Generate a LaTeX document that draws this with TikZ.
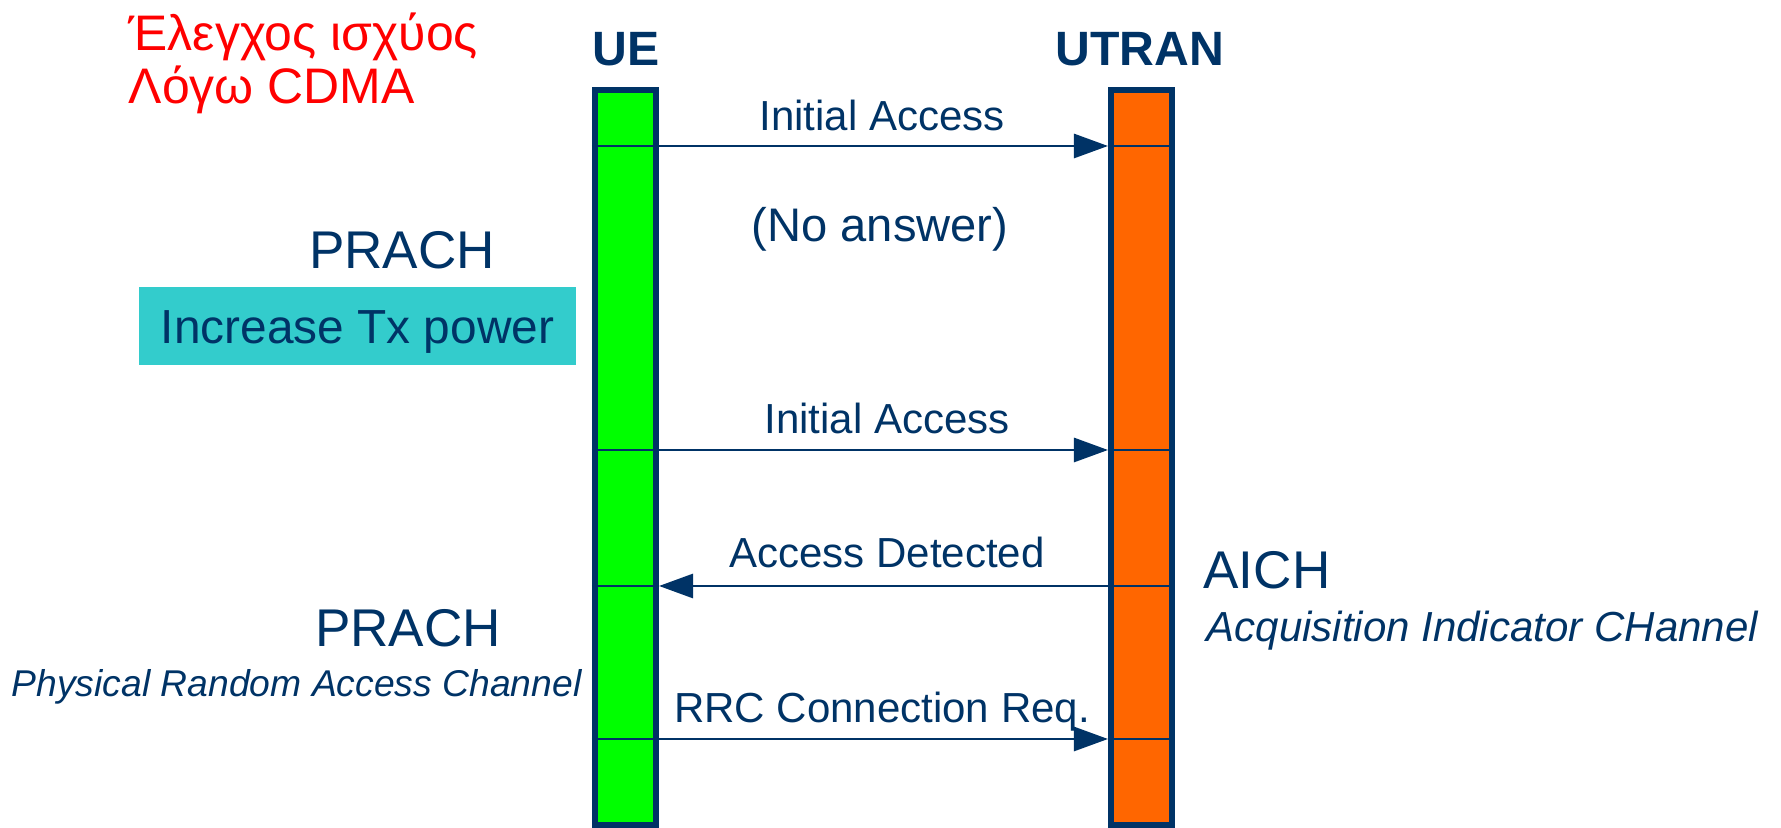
\documentclass[tikz,border=0pt]{standalone}
\usepackage{fontspec}
\setmainfont{Liberation Sans}
\usetikzlibrary{arrows.meta}
\definecolor{navy}{RGB}{0,51,102}
\definecolor{uegreen}{RGB}{0,255,0}
\definecolor{utranorange}{RGB}{255,102,0}
\definecolor{boxcyan}{RGB}{51,204,204}
\definecolor{notered}{RGB}{255,0,0}
\tikzset{
  px/.style={x=0.01cm, y=-0.01cm},
  entity/.style={draw=navy, line width=1.7pt, inner sep=0pt,
    minimum width=0.61cm, minimum height=7.35cm},
  head/.style={font=\fontsize{13.7pt}{16pt}\selectfont\bfseries, text=navy, anchor=base, inner sep=0pt},
  msglabel/.style={font=\fontsize{11.95pt}{14pt}\selectfont, text=navy, anchor=base, inner sep=0pt},
  chan/.style={font=\fontsize{15.1pt}{18pt}\selectfont, text=navy, anchor=base, inner sep=0pt},
  chandesc/.style={font=\fontsize{11.95pt}{14pt}\selectfont\itshape, text=navy, anchor=base west, inner sep=0pt},
  msg/.style={draw=navy, line width=0.8pt, -{Triangle[length=0.34cm, width=0.24cm]}},
  cross/.style={draw=navy, line width=0.8pt},
  remark/.style={font=\fontsize{14.2pt}{17pt}\selectfont, text=notered, anchor=base west, inner sep=0pt},
}
\begin{document}
\begin{tikzpicture}[px]
\useasboundingbox (0,0) rectangle (1781,828);

% the two entities
\node[entity, fill=uegreen] (ue) at (625.5,457.5) {};
\node[entity, fill=utranorange] (utran) at (1141.5,457.5) {};
\node[head] (uelabel) at (626,66) {UE};
\node[head] (utranlabel) at (1140,66) {UTRAN};

% message rows
\coordinate (r1) at (0,146);
\coordinate (r2) at (0,450);
\coordinate (r3) at (0,586);
\coordinate (r4) at (0,739);

\foreach \r in {r1,r2,r3,r4}{
  \draw[cross] (ue.west |- \r) -- (ue.east |- \r);
  \draw[cross] (utran.west |- \r) -- (utran.east |- \r);
}

\draw[msg] (ue.east |- r1) -- (utran.west |- r1);
\draw[msg] (ue.east |- r2) -- (utran.west |- r2);
\draw[msg] (utran.west |- r3) -- (ue.east |- r3);
\draw[msg] (ue.east |- r4) -- (utran.west |- r4);

\node[msglabel] (m1) at (882,131) {Initial Access};
\node[font=\fontsize{13.4pt}{16pt}\selectfont, text=navy, anchor=base, inner sep=0pt] (noans) at (880,242) {(No answer)};
\node[msglabel] (m2) at (887,434) {Initial Access};
\node[msglabel] (m3) at (887,568) {Access Detected};
\node[msglabel] (m4) at (882,723) {RRC Connection Req.};

% side notes
\node[remark] (pc1) at (128,51) {Έλεγχος ισχύος};
\node[remark] (pc2) at (128,104) {Λόγω CDMA};

\node[chan] (prach1) at (402,269) {PRACH};
\node[fill=boxcyan, minimum width=4.37cm, minimum height=0.78cm, inner sep=0pt,
  text height=0.35cm, text depth=0pt,
  font=\fontsize{13.6pt}{16pt}\selectfont, text=navy] (txp) at (357.5,326) {Increase Tx power};

\node[chan] (aich) at (1267,589) {AICH};
\node[chandesc] (aichdesc) at (1206,642) {Acquisition Indicator CHannel};

\node[chan] (prach2) at (408,647) {PRACH};
\node[chandesc, font=\fontsize{10.6pt}{13pt}\selectfont\itshape] (prachdesc) at (11,697) {Physical Random Access Channel};
\end{tikzpicture}
\end{document}
